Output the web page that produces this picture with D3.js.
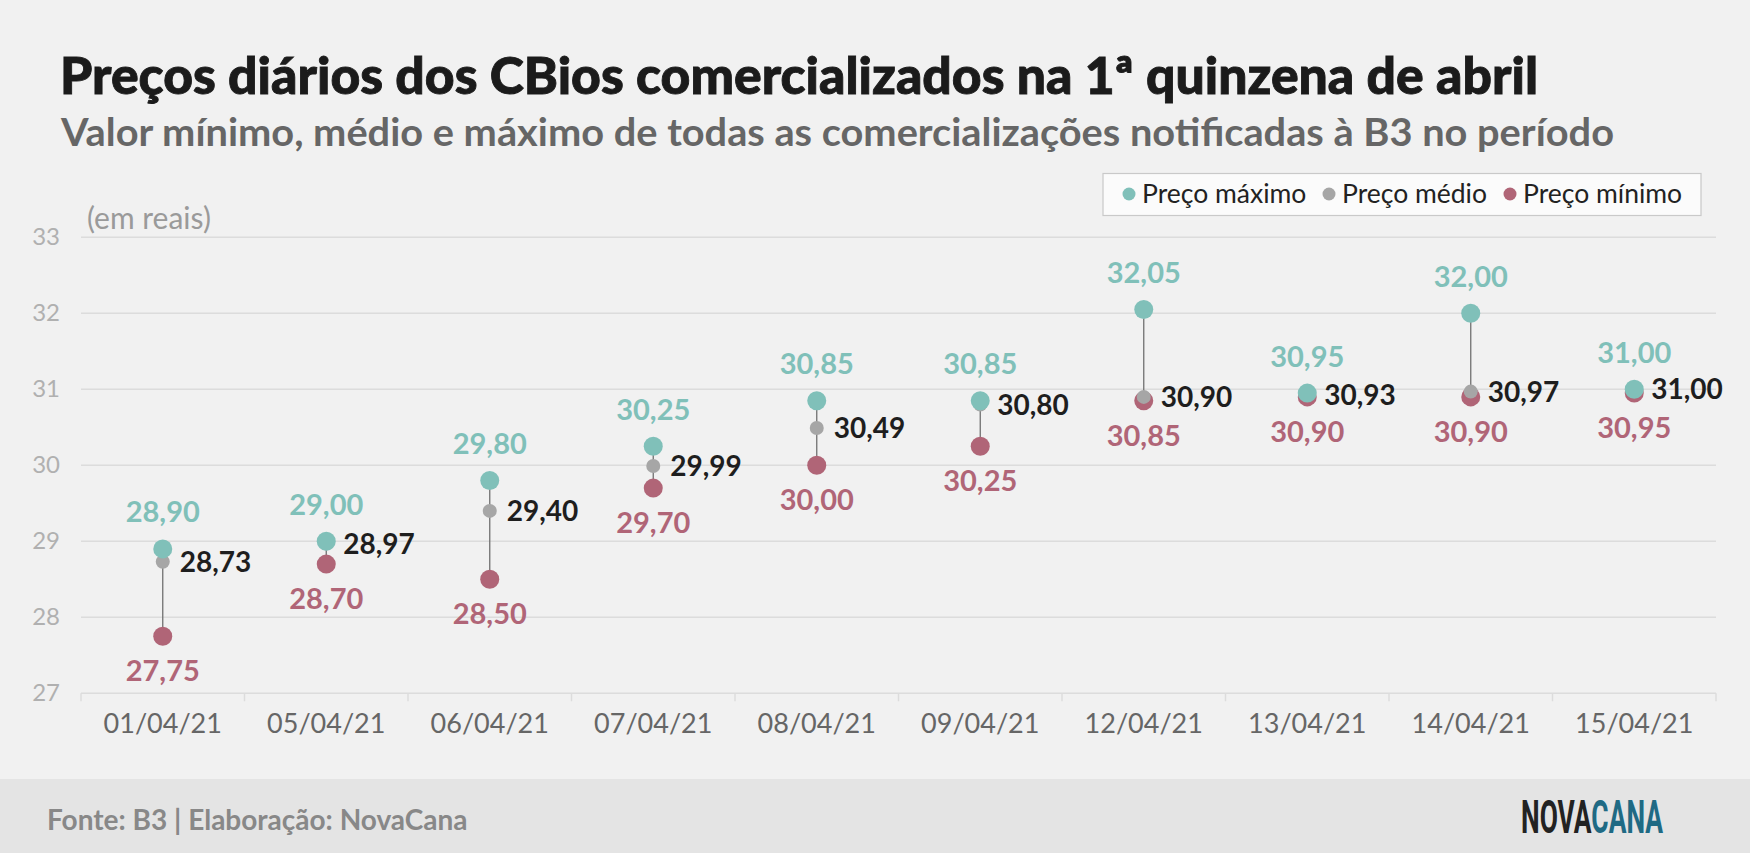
<!DOCTYPE html>
<html>
<head>
<meta charset="utf-8">
<script src="https://cdn.jsdelivr.net/npm/d3@7"></script>
<style>
  html, body { margin: 0; padding: 0; background: #f1f1f1; }
  svg { display: block; font-family: Lato, "Open Sans", sans-serif; }
</style>
</head>
<body>
<svg id="chart" width="1750" height="853"></svg>
<script>
const dates = ["01/04/21","05/04/21","06/04/21","07/04/21","08/04/21","09/04/21","12/04/21","13/04/21","14/04/21","15/04/21"];
const maxPrice = [28.90, 29.00, 29.80, 30.25, 30.85, 30.85, 32.05, 30.95, 32.00, 31.00];
const avgPrice = [28.73, 28.97, 29.40, 29.99, 30.49, 30.80, 30.90, 30.93, 30.97, 31.00];
const minPrice = [27.75, 28.70, 28.50, 29.70, 30.00, 30.25, 30.85, 30.90, 30.90, 30.95];
const yTicks = [27, 28, 29, 30, 31, 32, 33];
const seriesNames = ["Preço máximo", "Preço médio", "Preço mínimo"];

const title = "Preços diários dos CBios comercializados na 1ª quinzena de abril";
const subtitle = "Valor mínimo, médio e máximo de todas as comercializações notificadas à B3 no período";
const unitLabel = "(em reais)";
const sourceText = "Fonte: B3 | Elaboração: NovaCana";

const C = { max: "#80c0b9", avg: "#a6a6a6", min: "#b06577", grid: "#dcdcdc" };
const fmt = v => v.toFixed(2).replace(".", ",");

const svg = d3.select("#chart");
const W = 1750, H = 853;
svg.append("rect").attr("width", W).attr("height", H).attr("fill", "#f1f1f1");
svg.append("rect").attr("x", 0).attr("y", 779).attr("width", W).attr("height", H - 779).attr("fill", "#e4e4e4");

// Title and subtitle
svg.append("text").attr("x", 60).attr("y", 94).text(title)
  .attr("font-size", 52).attr("font-weight", 900).attr("fill", "#1b1b1b")
  .attr("stroke", "#1b1b1b").attr("stroke-width", 0.9)
  .attr("textLength", 1478).attr("lengthAdjust", "spacingAndGlyphs");
svg.append("text").attr("x", 61).attr("y", 146).text(subtitle)
  .attr("font-size", 39).attr("font-weight", 700).attr("fill", "#666")
  .attr("textLength", 1553).attr("lengthAdjust", "spacingAndGlyphs");

const x = d3.scaleBand().domain(dates).range([81, 1716]).padding(0);
const y = d3.scaleLinear().domain([27, 33]).range([693.3, 237.3]);

// Gridlines
svg.append("g").selectAll("line").data(yTicks).join("line")
  .attr("x1", 81).attr("x2", 1716)
  .attr("y1", d => y(d)).attr("y2", d => y(d))
  .attr("stroke", C.grid).attr("stroke-width", 1.5);

// Y axis labels
const yAxis = svg.append("g").attr("transform", "translate(60,0)")
  .call(d3.axisLeft(y).tickValues(yTicks).tickSize(0).tickPadding(0).tickFormat(d3.format("d")));
yAxis.select(".domain").remove();
yAxis.selectAll("text").attr("font-size", 24).attr("fill", "#b0b0b0").attr("font-family", "Lato");

// X axis
const xAxis = svg.append("g").attr("transform", `translate(0,${y(27)})`)
  .call(d3.axisBottom(x).tickSize(0).tickPadding(0));
xAxis.select(".domain").remove();
xAxis.selectAll("text").attr("font-size", 27).attr("fill", "#666").attr("font-family", "Lato")
  .attr("dy", null).attr("y", 40);
// band boundary ticks
const bounds = dates.map(d => x(d)).concat([x.range()[1]]);
svg.append("g").selectAll("line").data(bounds).join("line")
  .attr("x1", d => d).attr("x2", d => d)
  .attr("y1", y(27)).attr("y2", y(27) + 8)
  .attr("stroke", C.grid).attr("stroke-width", 1.5);

// unit label
svg.append("text").attr("x", 87).attr("y", 229).text(unitLabel)
  .attr("font-size", 30).attr("fill", "#9a9a9a");

// Data
const rows = dates.map((d, i) => ({ d, max: maxPrice[i], avg: avgPrice[i], min: minPrice[i] }));
const cx = d => x(d) + x.bandwidth() / 2;
const g = svg.append("g");

g.selectAll("line.rng").data(rows).join("line").attr("class", "rng")
  .attr("x1", r => cx(r.d)).attr("x2", r => cx(r.d))
  .attr("y1", r => y(r.min)).attr("y2", r => y(r.max))
  .attr("stroke", "#707070").attr("stroke-width", 1.3);

g.selectAll("circle.mn").data(rows).join("circle").attr("class", "mn")
  .attr("cx", r => cx(r.d)).attr("cy", r => y(r.min)).attr("r", 9.5).attr("fill", C.min);
g.selectAll("circle.av").data(rows).join("circle").attr("class", "av")
  .attr("cx", r => cx(r.d)).attr("cy", r => y(r.avg)).attr("r", 7).attr("fill", C.avg);
g.selectAll("circle.mx").data(rows).join("circle").attr("class", "mx")
  .attr("cx", r => cx(r.d)).attr("cy", r => y(r.max)).attr("r", 9.5).attr("fill", C.max);

// Labels
g.selectAll("text.lmx").data(rows).join("text").attr("class", "lmx")
  .attr("x", r => cx(r.d)).attr("y", r => y(r.max) - 26.5)
  .attr("text-anchor", "middle").attr("font-size", 29).attr("font-weight", 700)
  .attr("fill", C.max).text(r => fmt(r.max));
g.selectAll("text.lmn").data(rows).join("text").attr("class", "lmn")
  .attr("x", r => cx(r.d)).attr("y", r => y(r.min) + 45)
  .attr("text-anchor", "middle").attr("font-size", 29).attr("font-weight", 700)
  .attr("fill", C.min).text(r => fmt(r.min));
g.selectAll("text.lav").data(rows).join("text").attr("class", "lav")
  .attr("x", r => cx(r.d) + 17).attr("y", r => y(r.avg) + 10)
  .attr("font-size", 28).attr("font-weight", 700)
  .attr("fill", "#1e1e1e").text(r => fmt(r.avg));

// Legend
const lg = svg.append("g");
lg.append("rect").attr("x", 1103).attr("y", 173.5).attr("width", 598).attr("height", 42)
  .attr("fill", "#fbfbfb").attr("stroke", "#c9c9c9").attr("stroke-width", 1.2);
const legX = [1129, 1329, 1510];
const legC = [C.max, C.avg, C.min];
seriesNames.forEach((n, i) => {
  lg.append("circle").attr("cx", legX[i]).attr("cy", 194).attr("r", 6.5).attr("fill", legC[i]);
  lg.append("text").attr("x", legX[i] + 13).attr("y", 203).text(n)
    .attr("font-size", 26.5).attr("fill", "#222");
});

// Footer
svg.append("text").attr("x", 47).attr("y", 830).text(sourceText)
  .attr("font-size", 28).attr("font-weight", 700).attr("fill", "#888");
const logo = svg.append("text").attr("x", 1521).attr("y", 833)
  .attr("font-family", "Roboto, 'Liberation Sans', sans-serif").attr("font-weight", 700)
  .attr("font-size", 47).attr("textLength", 142).attr("lengthAdjust", "spacingAndGlyphs");
logo.append("tspan").text("NOVA").attr("fill", "#222");
logo.append("tspan").text("CANA").attr("fill", "#1f6a84");
</script>
</body>
</html>
